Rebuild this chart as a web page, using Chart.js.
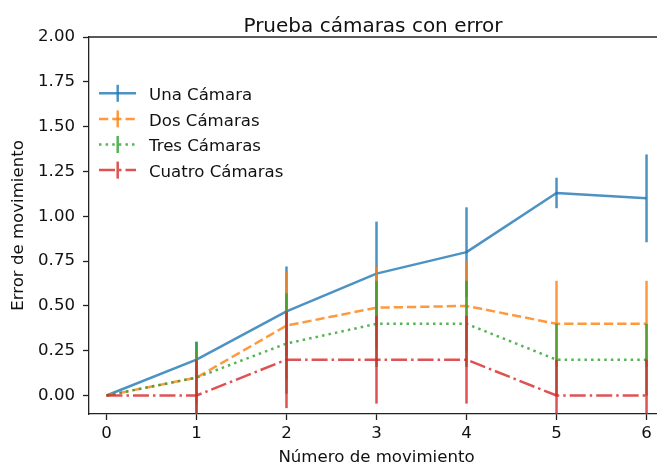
<!DOCTYPE html>
<html><head><meta charset="utf-8">
<script src="https://cdn.jsdelivr.net/npm/chart.js@4"></script>
<style>html,body{margin:0;padding:0;overflow:hidden;background:#fff;width:657px;height:466px}canvas{display:block}</style>
</head><body>
<canvas id="c" width="670" height="468"></canvas>
<script>
// ---- data ----
const movimientos = [0, 1, 2, 3, 4, 5, 6];
const unaCamara    = [0, 0.20, 0.47, 0.68, 0.80, 1.13, 1.10];
const dosCamaras   = [0, 0.10, 0.39, 0.49, 0.50, 0.40, 0.40];
const tresCamaras  = [0, 0.10, 0.29, 0.40, 0.40, 0.20, 0.20];
const cuatroCamaras= [0, 0.00, 0.20, 0.20, 0.20, 0.00, 0.00];
const unaErr    = [0, 0.10, 0.25, 0.29, 0.25, 0.085, 0.245];
const dosErr    = [0, 0.15, 0.30, 0.23, 0.25, 0.24, 0.24];
const tresErr   = [0, 0.20, 0.28, 0.24, 0.24, 0.20, 0.20];
const cuatroErr = [0, 0.20, 0.27, 0.245, 0.245, 0.20, 0.20];
const seriesNames = ['Una Cámara', 'Dos Cámaras', 'Tres Cámaras', 'Cuatro Cámaras'];
const xTicks = [0, 1, 2, 3, 4, 5, 6];
const yTicks = [0, 0.25, 0.5, 0.75, 1.0, 1.25, 1.5, 1.75, 2.0];
const chartTitle = 'Prueba cámaras con error';
const xTitle = 'Número de movimiento';
const yTitle = 'Error de movimiento';

// ---- styles ----
const FONT = 'DejaVu Sans';
const FS = 16.6;
const TXT = '#111';
const AX = '#222';
const colors = ['rgba(31,119,180,0.8)', 'rgba(255,127,14,0.8)', 'rgba(44,160,44,0.8)', 'rgba(214,39,40,0.8)'];
const dashes = [[], [9.25, 4], [2.5, 4.1], [16, 4, 2.5, 4]];
const LW = 2.5;
const values = [unaCamara, dosCamaras, tresCamaras, cuatroCamaras];
const errors = [unaErr, dosErr, tresErr, cuatroErr];

const datasets = seriesNames.map((name, i) => ({
  label: name,
  data: movimientos.map((x, j) => ({x: x, y: values[i][j]})),
  borderColor: colors[i],
  backgroundColor: colors[i],
  borderWidth: LW,
  borderDash: dashes[i],
  borderCapStyle: 'butt',
  borderJoinStyle: 'round',
  pointRadius: 0,
  pointHoverRadius: 0,
  fill: false,
  tension: 0,
  order: 4 - i
}));

const errorBars = {
  id: 'errorBars',
  afterDatasetDraw(chart, args) {
    const i = args.index;
    const xs = chart.scales.x, ys = chart.scales.y, ca = chart.chartArea, ctx = chart.ctx;
    ctx.save();
    ctx.beginPath();
    ctx.rect(ca.left, ca.top, ca.right - ca.left, ca.bottom - ca.top);
    ctx.clip();
    ctx.strokeStyle = colors[i];
    ctx.lineWidth = LW;
    ctx.lineCap = 'butt';
    ctx.setLineDash([]);
    movimientos.forEach((x, j) => {
      const e = errors[i][j];
      if (!e) return;
      const px = xs.getPixelForValue(x);
      ctx.beginPath();
      ctx.moveTo(px, ys.getPixelForValue(values[i][j] + e));
      ctx.lineTo(px, ys.getPixelForValue(values[i][j] - e));
      ctx.stroke();
    });
    ctx.restore();
  }
};

const decor = {
  id: 'decor',
  afterDraw(chart) {
    const ctx = chart.ctx, ca = chart.chartArea;
    ctx.save();
    // top spine
    ctx.strokeStyle = AX; ctx.lineWidth = 1.3; ctx.setLineDash([]);
    ctx.beginPath(); ctx.moveTo(ca.left - 0.65, ca.top); ctx.lineTo(ca.right, ca.top); ctx.stroke();
    // title
    ctx.fillStyle = TXT;
    ctx.font = '20px "' + FONT + '"';
    ctx.textAlign = 'center'; ctx.textBaseline = 'alphabetic';
    ctx.fillText(chartTitle, 373, 31.5);
    // legend
    const lx0 = 99, lx1 = 136, lxc = 117.7, ly0 = 93.3, dy = 25.6;
    seriesNames.forEach((name, i) => {
      const y = ly0 + i * dy;
      ctx.strokeStyle = colors[i]; ctx.lineWidth = LW; ctx.lineCap = 'butt';
      ctx.setLineDash(dashes[i]);
      ctx.beginPath(); ctx.moveTo(lx0, y); ctx.lineTo(lx1, y); ctx.stroke();
      ctx.setLineDash([]);
      ctx.beginPath(); ctx.moveTo(lxc, y - 8.5); ctx.lineTo(lxc, y + 8.5); ctx.stroke();
      ctx.fillStyle = TXT;
      ctx.font = FS + 'px "' + FONT + '"';
      ctx.textAlign = 'left'; ctx.textBaseline = 'alphabetic';
      ctx.fillText(name, 149, y + 6.8);
    });
    ctx.restore();
  }
};

const font = {family: FONT, size: FS};
new Chart(document.getElementById('c'), {
  type: 'line',
  data: {datasets: datasets},
  options: {
    responsive: false,
    animation: false,
    devicePixelRatio: 1,
    layout: {padding: {top: 37, right: 6, bottom: 0, left: 0}},
    plugins: {legend: {display: false}, tooltip: {enabled: false}, title: {display: false}},
    scales: {
      x: {
        type: 'linear', min: -0.194, max: 6.194,
        afterBuildTicks: s => { s.ticks = xTicks.map(v => ({value: v})); },
        afterFit: s => { s.height = 468 - 414; },
        ticks: {font: font, color: TXT, padding: 4, maxRotation: 0, autoSkip: false, callback: v => String(v)},
        grid: {display: true, drawOnChartArea: false, drawTicks: true, tickLength: 6, tickWidth: 1.3, tickColor: AX},
        border: {display: true, color: AX, width: 1.3},
        title: {display: true, text: xTitle, font: font, color: TXT, padding: {top: 0, bottom: 0}}
      },
      y: {
        type: 'linear', min: -0.103, max: 2.0,
        afterBuildTicks: s => { s.ticks = yTicks.map(v => ({value: v})); },
        afterFit: s => { s.width = 89; },
        ticks: {font: font, color: TXT, padding: 8, autoSkip: false, callback: v => Number(v).toFixed(2)},
        grid: {display: true, drawOnChartArea: false, drawTicks: true, tickLength: 6, tickWidth: 1.3, tickColor: AX},
        border: {display: true, color: AX, width: 1.3},
        title: {display: true, text: yTitle, font: font, color: TXT, padding: {top: 9, bottom: 0}}
      }
    }
  },
  plugins: [errorBars, decor]
});
</script>
</body></html>
